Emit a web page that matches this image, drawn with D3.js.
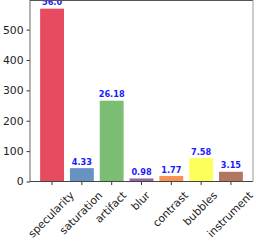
<!DOCTYPE html>
<html>
<head>
<meta charset="utf-8">
<script src="https://cdn.jsdelivr.net/npm/d3@7"></script>
<style>
body { margin: 0; background: #fff; }
svg { display: block; font-family: "DejaVu Sans", sans-serif; }
</style>
</head>
<body>
<svg id="chart" width="256" height="244"></svg>
<script>
// counts per artifact type and the percentage printed on top of each bar
var categories = ["specularity", "saturation", "artifact", "blur", "contrast", "bubbles", "instrument"];
var counts = [569, 44, 266, 10, 18, 77, 32];
var pctLabels = ["56.0", "4.33", "26.18", "0.98", "1.77", "7.58", "3.15"];
var barColors = ["#e64b5f", "#6792c4", "#7bbd73", "#9a62a6", "#f8904f", "#ffff5c", "#b17560"];
var yTicks = [0, 100, 200, 300, 400, 500];

var svg = d3.select("#chart");
var mL = 30, mR = 253, mT = 0, mB = 181.5;
var fs = 10.8;

var x = d3.scaleBand().domain(categories).range([mL, mR]).paddingInner(0.2).paddingOuter(0.34);
var y = d3.scaleLinear().domain([0, d3.max(counts) * 1.05]).range([mB, mT]);

var data = categories.map(function(c, i) { return {cat: c, n: counts[i], lab: pctLabels[i], col: barColors[i]}; });

svg.selectAll("rect.bar").data(data).enter().append("rect")
  .attr("class", "bar")
  .attr("x", function(d) { return x(d.cat); })
  .attr("y", function(d) { return y(d.n); })
  .attr("width", x.bandwidth())
  .attr("height", function(d) { return mB - y(d.n); })
  .attr("fill", function(d) { return d.col; });

svg.selectAll("text.val").data(data).enter().append("text")
  .attr("class", "val")
  .attr("x", function(d) { return x(d.cat) + x.bandwidth() / 2; })
  .attr("y", function(d) { return y(d.n) - 3.5; })
  .attr("text-anchor", "middle")
  .style("font-size", "8.2px").style("font-weight", "bold")
  .attr("fill", "#1a1aff")
  .text(function(d) { return d.lab; });

// y axis
var ya = svg.append("g").attr("transform", "translate(" + mL + ",0)")
  .call(d3.axisLeft(y).tickValues(yTicks).tickSize(3.5).tickPadding(3).tickFormat(d3.format("d")));
ya.select(".domain").remove();
ya.selectAll("line").attr("stroke", "#333");
ya.selectAll("text").style("font-size", fs + "px").style("font-family", "DejaVu Sans").attr("fill", "#222");

// x axis, labels rotated 45deg and centred under the tick
var xa = svg.append("g").attr("transform", "translate(0," + mB + ")")
  .call(d3.axisBottom(x).tickSize(3.5).tickPadding(0));
xa.select(".domain").remove();
xa.selectAll("line").attr("stroke", "#333");
xa.selectAll("text").style("font-size", fs + "px").style("font-family", "DejaVu Sans").attr("fill", "#222")
  .attr("text-anchor", "middle").attr("dy", "0.35em").attr("y", 0)
  .attr("transform", function() {
    var L = this.getComputedTextLength();
    var off = 0.707 * (L + fs * 0.9) / 2 + 8.5;
    return "translate(-1," + off + ") rotate(-45)";
  });

// spines
svg.append("line").attr("x1", mL).attr("x2", mL).attr("y1", mT).attr("y2", mB).attr("stroke", "#666");
svg.append("line").attr("x1", mL).attr("x2", mR).attr("y1", mB).attr("y2", mB).attr("stroke", "#444");
svg.append("line").attr("x1", mL).attr("x2", mR).attr("y1", mT + 0.5).attr("y2", mT + 0.5).attr("stroke", "#555");
svg.append("line").attr("x1", mR).attr("x2", mR).attr("y1", mT).attr("y2", mB).attr("stroke", "#999");
</script>
</body>
</html>
